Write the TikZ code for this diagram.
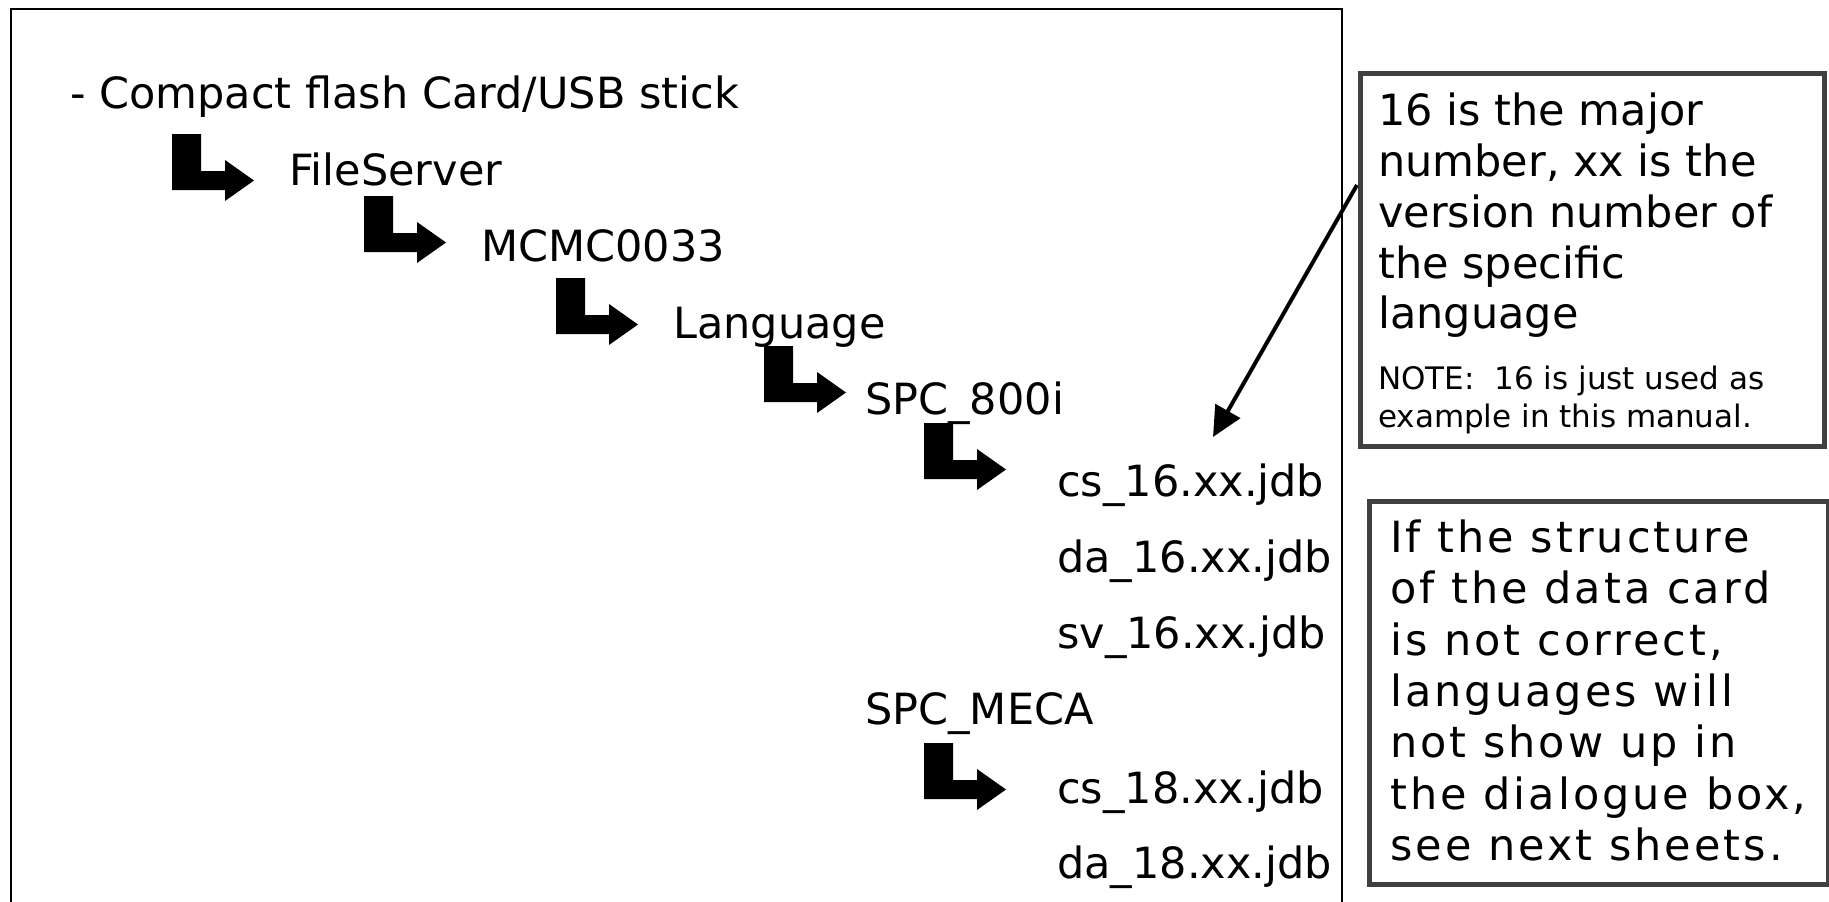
\documentclass[tikz,border=0pt]{standalone}
\usepackage{fontspec}
\setmainfont{DejaVu Sans}
\newfontfamily\spacedfont[LetterSpace=7]{DejaVu Sans}
\usetikzlibrary{arrows.meta}
\tikzset{
  lbl/.style={anchor=base west, inner sep=0pt, font=\fontsize{43}{50}\selectfont},
  notelbl/.style={anchor=base west, inner sep=0pt, font=\fontsize{31}{38}\selectfont},
  widelbl/.style={anchor=base west, inner sep=0pt, font=\spacedfont\fontsize{43}{50}\selectfont},
  notebox/.style={draw=black!75, line width=5pt, inner sep=0pt},
  frame/.style={draw=black, line width=1.5pt},
  leader/.style={draw=black, line width=4pt, -{Triangle[length=30pt,width=28pt]}},
  bentarrow/.pic={\fill[black] (0,0) -- (29,0) -- (29,37) -- (53,37) -- (53,26) -- (82,46.5) -- (53,67) -- (53,56) -- (0,56) -- cycle;}
}
\begin{document}
\begin{tikzpicture}[x=1pt,y=-1pt]
\fill[white] (0,0) rectangle (1829,902);
\useasboundingbox (0,0) rectangle (1829,902);
\draw[frame] (11,910) -- (11,9) -- (1342,9) -- (1342,910);
% tree
\node[lbl] (root) at (70,108) {- Compact flash Card/USB stick};
\pic at (172,134) {bentarrow};
\node[lbl] (fs) at (289,185) {FileServer};
\pic at (364,196) {bentarrow};
\node[lbl] (mc) at (481,261) {MCMC0033};
\pic at (556,278) {bentarrow};
\node[lbl] (lang) at (673,338) {Language};
\pic at (764,346) {bentarrow};
\node[lbl] (spc) at (865,414) {SPC\_800i};
\pic at (924,423) {bentarrow};
\node[lbl] (cs16) at (1057,496) {cs\_16.xx.jdb};
\node[lbl] (da16) at (1057,572) {da\_16.xx.jdb};
\node[lbl] (sv16) at (1057,648) {sv\_16.xx.jdb};
\node[lbl] (meca) at (865,724) {SPC\_MECA};
\pic at (924,743) {bentarrow};
\node[lbl] (cs18) at (1057,803) {cs\_18.xx.jdb};
\node[lbl] (da18) at (1057,878) {da\_18.xx.jdb};
% top note
\node[notebox, minimum width=464pt, minimum height=373pt, anchor=north west] (note1) at (1358,71) {};
\node[lbl] (n1a) at (1378,125) {16 is the major};
\node[lbl] (n1b) at (1378,176) {number, xx is the};
\node[lbl] (n1c) at (1378,227) {version number of};
\node[lbl] (n1d) at (1378,278) {the specific};
\node[lbl] (n1e) at (1378,328) {language};
\node[notelbl] (n1f) at (1378,389) {NOTE:\ \ 16 is just used as};
\node[notelbl] (n1g) at (1378,427) {example in this manual.};
\coordinate (ls) at (1357,185);
\coordinate (lt) at (1213,437);
\draw[leader] (ls) -- (lt);
% bottom note
\node[notebox, minimum width=459pt, minimum height=383pt, anchor=north west] (note2) at (1367,499) {};
\node[widelbl] (n2a) at (1390,552) {If the structure};
\node[widelbl] (n2b) at (1390,603) {of the data card};
\node[widelbl] (n2c) at (1390,655) {is not correct,};
\node[widelbl] (n2d) at (1390,706) {languages will};
\node[widelbl] (n2e) at (1390,757) {not show up in};
\node[widelbl] (n2f) at (1390,809) {the dialogue box,};
\node[widelbl] (n2g) at (1390,860) {see next sheets.};
\end{tikzpicture}
\end{document}
